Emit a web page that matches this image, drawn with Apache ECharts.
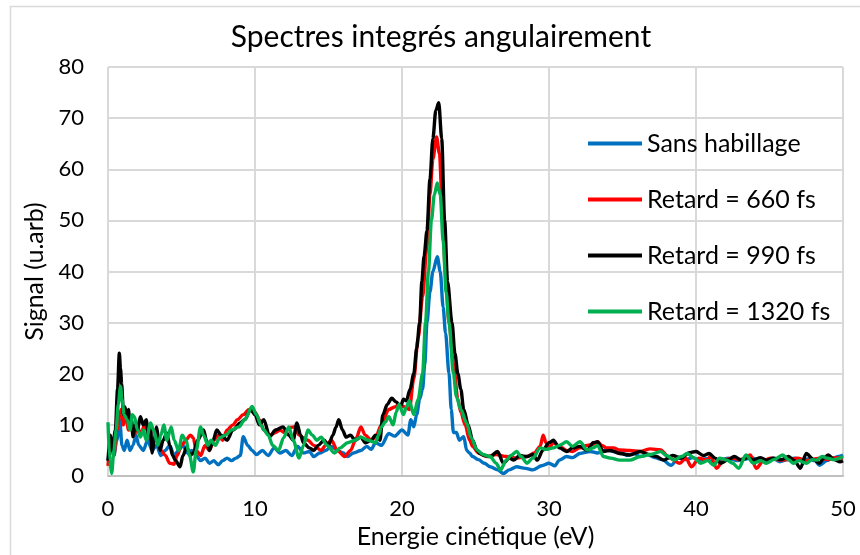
<!DOCTYPE html>
<html>
<head>
<meta charset="utf-8">
<script src="https://cdn.jsdelivr.net/npm/echarts@6/dist/echarts.min.js"></script>
<style>
  html, body { margin: 0; padding: 0; background: #ffffff; }
  #chart { width: 860px; height: 555px; }
</style>
</head>
<body>
<div id="chart"></div>
<script>
// Angle-integrated photoelectron spectra: [kinetic energy (eV), signal (arb. units)]
const seriesNames = ['Sans habillage', 'Retard = 660 fs', 'Retard = 990 fs', 'Retard = 1320 fs'];
const seriesColors = ['#0070C0', '#FF0000', '#000000', '#00B050'];

const xTicks = [0, 10, 20, 30, 40, 50];
const yTicks = [0, 10, 20, 30, 40, 50, 60, 70, 80];

const sansHabillage = [[0,3],[0.2,6],[0.4,4],[0.6,7],[0.8,11],[0.95,6],[1.1,5],[1.3,7],[1.5,5],[1.7,6],[1.9,8],[2.1,6],[2.4,5],[2.7,7],[3.0,5],[3.3,6],[3.6,4],[3.9,5],[4.2,6],[4.5,4],[4.8,5],[5.1,6],[5.4,4.5],[5.7,5],[6.0,4],[6.3,3],[6.6,3.5],[6.9,2.5],[7.2,3],[7.5,2.2],[7.8,3],[8.1,3.5],[8.4,3],[8.7,3.5],[9.0,4],[9.2,7.7],[9.5,6],[9.8,5],[10.1,4.2],[10.5,5],[10.9,4],[11.3,5.5],[11.7,4.5],[12.1,5],[12.5,4],[12.9,5.8],[13.3,4.5],[13.7,4.8],[14.0,3.8],[14.4,4.5],[14.8,5],[15.2,5.8],[15.6,5],[16.0,4.5],[16.3,3.8],[16.7,4.5],[17.2,5],[17.6,5.8],[17.9,5.2],[18.2,6.5],[18.6,6],[19.1,8.3],[19.5,7.8],[20.0,9],[20.4,8],[20.6,11],[20.8,9.6],[21.0,12],[21.2,15],[21.4,17],[21.55,22],[21.7,30],[21.9,36],[22.1,40],[22.4,42.9],[22.6,40],[22.8,33],[22.96,28],[23.2,20],[23.35,13],[23.5,8.5],[23.7,8.5],[23.9,7],[24.2,7.7],[24.4,5],[24.6,4.5],[24.8,3.8],[25.2,3.2],[25.6,2.5],[26.0,1.8],[26.5,1.2],[26.9,0.5],[27.3,1.2],[27.8,1.8],[28.4,1.5],[28.9,1.2],[29.5,2],[30.0,2.5],[30.4,2],[30.7,3.1],[31.2,3.8],[31.6,3.6],[32.1,4.4],[32.8,4.8],[33.3,4.5],[33.9,5.1],[34.4,4.8],[34.8,4.8],[35.3,4],[35.8,4.4],[36.2,3.8],[36.7,4.2],[37.2,3.6],[37.7,3.2],[38.3,2.1],[38.8,3.5],[39.3,3.2],[39.8,3.6],[40.2,3],[40.7,3.4],[41.2,2.5],[41.7,3.2],[42.2,3.5],[42.8,3],[43.3,3.3],[43.8,3.6],[44.3,3],[44.8,3.2],[45.2,3.5],[45.7,2.8],[46.2,3.2],[46.7,3.5],[47.2,3],[47.7,3.4],[48.1,3],[48.4,2.1],[48.9,3],[49.3,3.5],[49.7,3.8],[50,4.1]];

const retard660 = [[0,2],[0.2,7],[0.4,4],[0.6,9],[0.8,12],[0.9,13],[1.05,10],[1.2,12],[1.4,9],[1.6,10],[1.8,8],[2.0,10],[2.2,8],[2.5,10],[2.8,8],[3.0,6],[3.3,8],[3.6,5],[3.9,4],[4.2,2.5],[4.5,2.3],[4.7,4],[5.0,6],[5.3,7],[5.6,8],[5.8,7.5],[6.0,5],[6.3,4],[6.6,6],[6.9,5],[7.2,7],[7.5,8],[7.8,7],[8.1,9],[8.5,10],[8.8,11],[9.2,12],[9.6,13],[10.0,12.5],[10.3,11],[10.6,9],[11.0,8],[11.4,8.5],[11.7,9],[12.0,8.5],[12.4,9.5],[12.7,9.6],[13.0,8],[13.3,7.5],[13.6,7],[14.0,6],[14.5,5],[14.8,6],[15.2,7],[15.6,5],[16.1,3.8],[16.5,5],[16.9,7.5],[17.2,9.6],[17.5,8],[17.9,7],[18.2,7.6],[18.6,10],[19.1,13],[19.5,13.5],[19.8,14],[20.2,13.5],[20.5,13],[20.8,19],[21.1,27],[21.4,35],[21.7,45],[21.9,55],[22.1,62],[22.35,66.3],[22.55,63],[22.75,52],[22.95,40],[23.2,30],[23.5,22],[23.8,15],[24.0,12.5],[24.3,10],[24.6,7],[24.8,5.8],[25.2,4.5],[25.8,3.8],[26.4,4.2],[27.1,3.8],[27.8,3.5],[28.5,3.8],[29.0,4.5],[29.4,5.8],[29.6,8],[29.8,6.5],[30.0,5.5],[30.3,6.5],[30.7,5.8],[31.2,5],[31.6,4.8],[32.1,5.5],[32.6,6],[33.0,6.2],[33.3,6.7],[33.6,6],[33.9,5.5],[34.4,5.5],[34.8,5.1],[35.5,5],[36.2,4.8],[36.9,5.3],[37.6,5.1],[38.2,3.5],[38.9,2.5],[39.3,3.5],[39.7,1.8],[40.2,3.5],[40.7,3.1],[41.0,3.8],[41.4,1.5],[41.9,3.2],[42.5,3.5],[43.0,3.2],[43.7,4.1],[44.1,1.5],[44.6,3],[45.1,3.5],[45.7,3.1],[46.3,3.2],[46.9,3.5],[47.5,3],[48.0,3.3],[48.4,3.5],[49.0,3.2],[49.5,3.6],[50,3.5]];

const retard990 = [[0,3],[0.15,8],[0.3,5],[0.5,9],[0.65,17],[0.77,24],[0.85,21],[0.93,18],[1.05,12],[1.16,13.5],[1.3,11],[1.39,13],[1.5,10],[1.6,11],[1.7,7.7],[1.85,10],[2.0,9],[2.2,11.6],[2.4,10],[2.6,11],[2.75,8],[2.9,9.6],[3.0,4.5],[3.15,7],[3.3,9.6],[3.45,7],[3.54,5],[3.75,7],[4.0,8.4],[4.2,6],[4.4,4],[4.6,3],[4.9,1.8],[5.1,4],[5.36,5.7],[5.6,4],[5.8,4.5],[6.1,7],[6.5,9],[6.7,7],[6.9,5],[7.15,7],[7.4,9],[7.7,8],[8.1,7],[8.5,9],[9.0,10.4],[9.3,11],[9.7,13],[10.0,12],[10.3,10],[10.6,11],[11.0,7.7],[11.4,9],[11.9,9.6],[12.3,8],[12.6,7],[12.85,10.4],[13.1,8],[13.3,6.5],[13.7,5.5],[14.0,5],[14.3,6],[14.7,7],[15.0,6],[15.3,8],[15.5,9.5],[15.7,11],[15.95,9],[16.2,7.6],[16.5,8],[16.8,7],[17.2,7.6],[17.5,6.5],[17.9,7],[18.2,8],[18.5,7],[18.7,12],[19.0,14],[19.3,15.2],[19.6,14.5],[19.9,13.6],[20.1,15],[20.3,14.7],[20.55,17],[20.8,20],[21.0,25],[21.2,30],[21.35,38],[21.5,43],[21.7,48],[21.9,58],[22.1,66],[22.3,71.5],[22.5,73],[22.7,66],[22.9,50],[23.1,38],[23.4,30],[23.6,24],[23.8,20],[24.0,17],[24.2,13],[24.5,10],[24.8,7],[25.1,5],[25.3,4.4],[25.6,4],[26.0,3.8],[26.5,4.8],[26.9,2.5],[27.3,3.5],[27.6,3.1],[28.0,4],[28.5,3.8],[28.9,4.2],[29.2,3.1],[29.6,5.1],[30.0,6.5],[30.3,7],[30.7,5.5],[31.2,4.8],[31.6,5.5],[32.1,5.8],[32.6,5],[33.0,6.5],[33.3,6.7],[33.7,4.8],[34.2,5],[34.8,4.4],[35.5,4.1],[36.2,4.8],[36.8,4.2],[37.3,3.8],[37.8,3.1],[38.4,4],[39.0,3.5],[39.5,4.5],[40.0,4.8],[40.5,4],[40.9,4.4],[41.3,3.5],[41.7,2.5],[42.2,3.2],[42.6,3.8],[43.1,3.1],[43.5,3.6],[43.9,3.1],[44.4,3.6],[44.8,3.1],[45.3,3.5],[45.8,3.2],[46.3,3.8],[46.7,3],[47.1,1.5],[47.5,4.4],[48.0,3.2],[48.4,2.5],[48.7,3.5],[49.0,4.1],[49.4,3.2],[49.8,2.8],[50,3]];

const retard1320 = [[0,10.5],[0.12,3],[0.25,0.5],[0.4,5],[0.55,9],[0.7,14],[0.85,17.5],[0.95,15],[1.1,12],[1.3,11],[1.5,9],[1.65,12],[1.8,11.6],[2.0,9],[2.2,7.6],[2.4,9],[2.6,7],[2.9,10.4],[3.1,9],[3.4,6],[3.6,8],[3.8,10],[4.0,7],[4.3,9.6],[4.5,7],[4.8,5],[5.05,8],[5.3,7],[5.55,4],[5.8,0.8],[6.0,5],[6.3,9.6],[6.5,8],[6.8,6],[7.0,7],[7.3,6],[7.6,7.5],[8.0,8],[8.4,9],[8.9,9.6],[9.3,11],[9.8,13.6],[10.1,12],[10.4,10],[10.6,9],[10.9,8],[11.2,6],[11.6,5],[11.95,7.5],[12.3,9.6],[12.6,7],[13.0,3.5],[13.3,6],[13.6,9],[13.9,8],[14.2,7],[14.5,7.6],[14.9,6],[15.4,4.5],[15.8,5.5],[16.3,6.5],[16.8,7],[17.2,7.6],[17.7,7],[18.2,6.5],[18.4,8],[18.6,9.6],[18.85,10.5],[19.1,11.6],[19.4,10],[19.6,12.5],[19.8,14],[20.1,12],[20.3,13.5],[20.5,14.7],[20.8,12],[21.1,15],[21.4,20],[21.6,30],[21.8,40],[22.0,50],[22.2,55],[22.4,57.3],[22.6,55],[22.8,46],[23.0,36],[23.2,30],[23.5,20],[23.7,15.5],[24.0,13],[24.4,10.4],[24.7,7.5],[25.1,5.1],[25.5,4.2],[26.0,3.8],[26.4,2.5],[26.7,1.2],[27.1,3.1],[27.4,4],[27.8,4.8],[28.1,3.8],[28.5,2.5],[28.9,3.5],[29.4,5.5],[29.8,5.2],[30.3,5.5],[30.7,6],[31.2,6.7],[31.6,5.8],[32.1,6.7],[32.6,5.1],[33.0,5.5],[33.3,6],[33.7,3.8],[34.2,3.5],[34.8,3.1],[35.5,3.1],[36.2,3.8],[36.9,4.2],[37.6,4.8],[38.0,4],[38.5,3.1],[39.0,3.8],[39.4,4.4],[39.9,3.5],[40.3,2.5],[40.8,3],[41.2,2.1],[41.6,3.5],[42.1,3.1],[42.5,2.5],[42.9,1.5],[43.4,4.1],[43.9,2.5],[44.4,3],[44.8,2.5],[45.3,3.2],[45.9,4.1],[46.3,3.2],[46.6,2.5],[47.0,3],[47.5,2.5],[47.9,3.2],[48.2,3.1],[48.6,3.8],[48.9,3.5],[49.4,3.2],[50,3.8]];

const seriesData = [sansHabillage, retard660, retard990, retard1320];

const FONT = 'Lato, "Open Sans", sans-serif';
const chart = echarts.init(document.getElementById('chart'), null, { renderer: 'canvas' });

chart.setOption({
  animation: false,
  backgroundColor: '#ffffff',
  title: {
    text: 'Spectres integrés angulairement',
    left: 441, top: 22, textAlign: 'center', padding: 0,
    textStyle: { fontFamily: FONT, fontSize: 30, fontWeight: 'normal', color: '#000000' }
  },
  graphic: [{
    type: 'rect', left: 8, top: 4, silent: true,
    shape: { width: 900, height: 600 },
    style: { fill: 'none', stroke: '#d9d9d9', lineWidth: 1.5 }
  }],
  legend: {
    orient: 'vertical', left: 588, top: 131, padding: 0,
    itemWidth: 54, itemHeight: 4, itemGap: 31, icon: 'rect',
    data: seriesNames,
    textStyle: { fontFamily: FONT, fontSize: 25, color: '#000000', lineHeight: 24 }
  },
  grid: { left: 108, top: 67, right: 17, bottom: 79, outerBoundsMode: 'none', containLabel: false },
  xAxis: {
    type: 'value', min: xTicks[0], max: xTicks[xTicks.length - 1], interval: 10,
    name: 'Energie cinétique (eV)', nameLocation: 'middle', nameGap: 47,
    nameTextStyle: { fontFamily: FONT, fontSize: 25, color: '#000000' },
    axisLine: { show: true, lineStyle: { color: '#bfbfbf', width: 2 } },
    axisTick: { show: false },
    axisLabel: { fontFamily: FONT, fontSize: 22, color: '#000000', margin: 22 },
    splitLine: { show: true, lineStyle: { color: '#d9d9d9', width: 2 } }
  },
  yAxis: {
    type: 'value', min: yTicks[0], max: yTicks[yTicks.length - 1], interval: 10,
    name: 'Signal (u.arb)', nameLocation: 'middle', nameGap: 61, nameRotate: 90,
    nameTextStyle: { fontFamily: FONT, fontSize: 25, color: '#000000' },
    axisLine: { show: false },
    axisTick: { show: false },
    axisLabel: { fontFamily: FONT, fontSize: 22, color: '#000000', margin: 24 },
    splitLine: { show: true, lineStyle: { color: '#d9d9d9', width: 2 } }
  },
  series: seriesNames.map((name, i) => ({
    name: name,
    type: 'line',
    data: seriesData[i],
    showSymbol: false,
    symbol: 'none',
    smooth: 0.3,
    smoothMonotone: 'x',
    lineStyle: { color: seriesColors[i], width: 3.4 },
    itemStyle: { color: seriesColors[i] },
    z: 2 + i
  }))
});
</script>
</body>
</html>
